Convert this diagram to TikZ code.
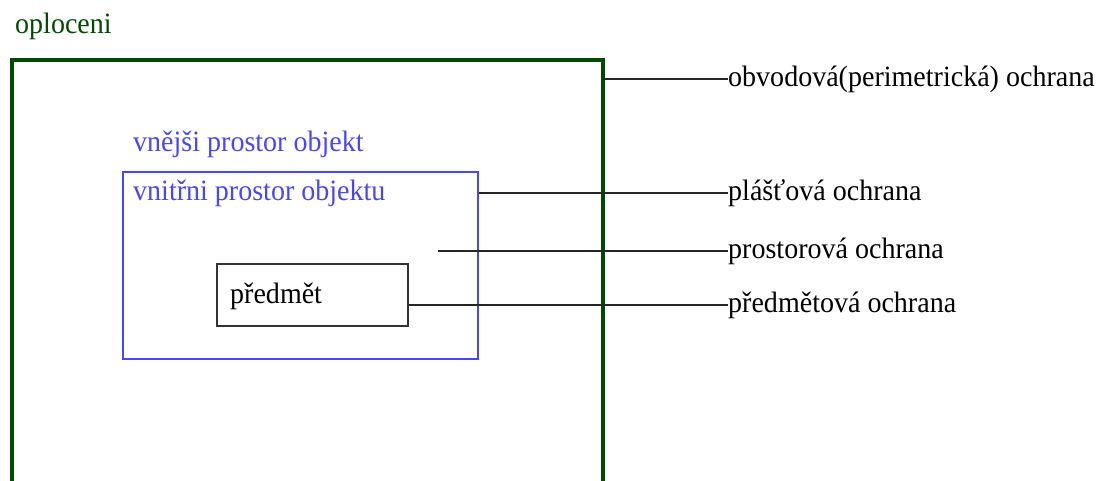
\documentclass[tikz,border=0pt]{standalone}
\usepackage{fontspec}
\setmainfont{Liberation Serif}
\newfontfamily\lblfont[FakeStretch=0.95]{Liberation Serif}
\definecolor{fence}{RGB}{0,75,0}
\definecolor{inblue}{RGB}{70,70,255}
\begin{document}
\begin{tikzpicture}[x=1pt,y=-1pt,
  lbl/.style={anchor=base west,inner sep=0pt,font=\lblfont\fontsize{29.5}{32}\selectfont},
  conn/.style={draw=black!85,line width=1.3pt}]
\useasboundingbox (0,0) rectangle (1103,480);
\node[lbl,text=fence] (oplo) at (15,33) {oploceni};
\draw[fence,line width=4pt] (12,484) -- (12,60) -- (603,60) -- (603,484);
\coordinate (outerR) at (603,79);
\node[draw=inblue,line width=1.5pt,minimum width=355pt,minimum height=187pt,anchor=north west,inner sep=0pt] (inner) at (122,171) {};
\node[lbl,text=inblue] (vnejsi) at (133,151) {vnějši prostor objekt};
\node[lbl,text=inblue] (vnitrni) at (133,200) {vnitřni prostor objektu};
\node[draw=black!80,line width=1.5pt,minimum width=191pt,minimum height=62pt,anchor=north west,inner sep=0pt] (predmet) at (216,263) {};
\node[lbl] (predtxt) at (230,303) {předmět};
\coordinate (prostor) at (438,251);
\node[lbl] (l1) at (728,86) {obvodová(perimetrická) ochrana};
\node[lbl] (l2) at (728,200) {plášťová ochrana};
\node[lbl] (l3) at (728,258) {prostorová ochrana};
\node[lbl] (l4) at (728,312) {předmětová ochrana};
\draw[conn] (outerR) -- (l1.base west |- outerR);
\draw[conn] (inner.east |- 0,193) -- (l2.base west |- 0,193);
\draw[conn] (prostor) -- (l3.base west |- prostor);
\draw[conn] (predmet.east |- 0,305) -- (l4.base west |- 0,305);
\end{tikzpicture}
\end{document}
